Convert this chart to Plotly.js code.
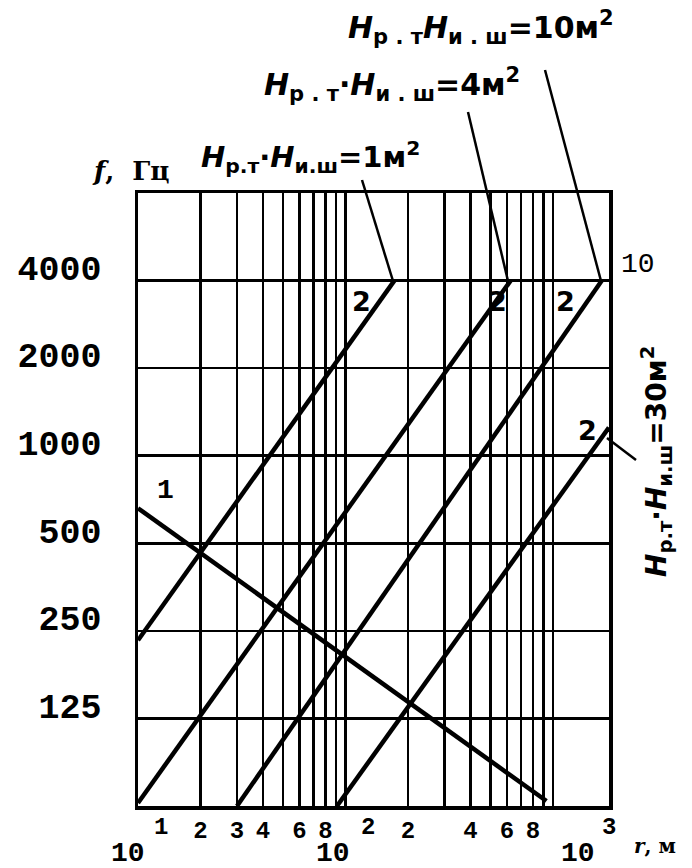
<!DOCTYPE html>
<html>
<head>
<meta charset="utf-8">
<script src="https://cdn.plot.ly/plotly-3.0.1.min.js"></script>
<style>
  html, body { margin: 0; padding: 0; background: #fff; }
  #chart { width: 692px; height: 868px; }
</style>
</head>
<body>
<div id="chart"></div>
<script>
// Octave-band frequencies on the vertical axis, Hz
const freqTicks = [125, 250, 500, 1000, 2000, 4000];
const freqLabels = ['125', '250', '500', '1000', '2000', '4000'];

// Distance grid, m (logarithmic), and the digits printed under it
const distGrid = [20, 30, 40, 50, 60, 70, 80, 90, 100, 200, 300, 400, 500, 600, 700, 800, 900, 1000];
const distLabels = ['2', '3', '4', '', '6', '', '8', '', '', '2', '', '4', '', '6', '', '8', '', ''];
const decades = [10, 100, 1000];
const decadeExp = ['1', '2', '3'];

// Curve 1
const curve1R = [10, 930];
const curve1F = [660, 65];

// Curves 2 for Hр.т·Hи.ш = 1, 4, 10, 30 m²
const curve2Area = [1, 4, 10, 30];
const curve2R = [[10, 172], [10, 625], [30, 1720], [91, 1860]];
const curve2F = [[232, 4000], [64, 4000], [62.5, 4000], [62.5, 1250]];

// Plot frame in page pixels
const W = 692, H = 868;
const L = 138, R = 609, T = 193, B = 806;
const X_RANGE = [1, 3.27];
const Y_RANGE = [Math.log10(62.5), Math.log10(8000)];
const px = x => (x - L) / (R - L);
const py = y => (B - y) / (B - T);
const rToPaper = r => (Math.log10(r) - X_RANGE[0]) / (X_RANGE[1] - X_RANGE[0]);

const INK = '#000';
const MONO = 'Liberation Mono, Courier New, monospace';
const SANS = 'DejaVu Sans, Arial, sans-serif';
const SERIF = 'DejaVu Serif, Times New Roman, serif';
const NB = '\u00a0';

const traces = [];
traces.push({
  x: curve1R, y: curve1F, type: 'scatter', mode: 'lines',
  line: { color: INK, width: 4.5 }, hoverinfo: 'skip'
});
curve2R.forEach((rs, i) => {
  traces.push({
    x: rs, y: curve2F[i], type: 'scatter', mode: 'lines',
    line: { color: INK, width: 4.5 }, hoverinfo: 'skip'
  });
});

// Caption "Hр.т·Hи.ш = A м²"; wide captions get loosely spaced subscripts
const areaLabel = (a, dot, loose) => {
  const s = loose ? NB : '';
  return '<i>H</i><sub>р' + s + '.' + s + 'т</sub>' + (dot ? '·' : '') +
    '<i>H</i><sub>и' + s + '.' + s + 'ш</sub>=' + a + 'м<sup>2</sup>';
};

const ann = [];
function text(t, x, y, opts) {
  ann.push(Object.assign({
    text: t, xref: 'paper', yref: 'paper', x: px(x), y: py(y),
    showarrow: false, xanchor: 'center', yanchor: 'middle',
    font: { family: MONO, size: 26, color: INK, weight: 'bold' }
  }, opts || {}));
}

// Decade labels 10^n under the distance axis
const decShift = [-10, -12, 25];
const expShift = [23, 23, 56];
decades.forEach((d, i) => {
  const xp = L + rToPaper(d) * (R - L);
  text('10', xp + decShift[i], 853, { font: { family: MONO, size: 28, color: INK, weight: 'bold' } });
  text(decadeExp[i], xp + expShift[i], 827, { font: { family: MONO, size: 24, color: INK, weight: 'bold' } });
});

// Axis captions
text('<i>r</i>,' + NB + 'м', 655, 846, { font: { family: SERIF, size: 20, color: INK, weight: 'bold' } });
text('<i>f</i>,' + NB + NB + 'Гц', 90, 171, { xanchor: 'left', font: { family: SERIF, size: 26, color: INK, weight: 'bold' } });

// Curve labels
const numFont = { family: SANS, size: 27, color: INK, weight: 'bold' };
text('1', 165, 490, { font: { family: MONO, size: 28, color: INK, weight: 'bold' } });
text('2', 361, 301, { font: numFont });
text('2', 497, 301, { font: numFont });
text('2', 565, 301, { font: numFont });
text('2', 587, 430, { font: numFont });
text('10', 638, 264, { font: { family: MONO, size: 28, color: INK } });

// Parameter captions for curves 2
const capFont = { family: SANS, size: 30, color: INK, weight: 'bold' };
text(areaLabel(curve2Area[0], true, false), 199, 157, { xanchor: 'left', font: { family: SANS, size: 29, color: INK, weight: 'bold' } });
text(areaLabel(curve2Area[1], true, true), 262, 85, { xanchor: 'left', font: capFont });
text(areaLabel(curve2Area[2], false, true), 346, 28, { xanchor: 'left', font: capFont });
text(areaLabel(curve2Area[3], true, false), 656, 462, { textangle: -90, font: { family: SANS, size: 28, color: INK, weight: 'bold' } });

// Leader lines from captions to their curves
const leaders = [
  [362, 180, 393, 281],
  [468, 112, 508, 281],
  [545, 70, 601, 281],
  [607, 438, 636, 460]
];
const shapes = leaders.map(([x0, y0, x1, y1]) => ({
  type: 'line', xref: 'paper', yref: 'paper',
  x0: px(x0), y0: py(y0), x1: px(x1), y1: py(y1),
  line: { color: INK, width: 2.5 }
}));

const layout = {
  width: W, height: H,
  margin: { l: L, r: W - R, t: T, b: H - B, pad: 0 },
  paper_bgcolor: '#fff', plot_bgcolor: '#fff',
  showlegend: false, hovermode: false,
  xaxis: {
    type: 'log', range: X_RANGE,
    tickmode: 'array', tickvals: distGrid, ticktext: distLabels,
    showgrid: true, gridcolor: INK, gridwidth: 2.5,
    showline: true, mirror: true, linecolor: INK, linewidth: 3.5,
    ticks: '', zeroline: false, ticklabelstandoff: 0,
    tickfont: { family: MONO, size: 24, color: INK, weight: 'bold' }
  },
  yaxis: {
    type: 'log', range: Y_RANGE,
    tickmode: 'array', tickvals: freqTicks, ticktext: freqLabels,
    showgrid: true, gridcolor: INK, gridwidth: 2.5,
    showline: true, mirror: true, linecolor: INK, linewidth: 3.5,
    ticks: '', zeroline: false,
    ticklabelstandoff: 26, ticklabelshift: -13,
    tickfont: { family: MONO, size: 35, color: INK, weight: 'bold' }
  },
  annotations: ann,
  shapes: shapes
};

Plotly.newPlot('chart', traces, layout, { staticPlot: true, displayModeBar: false });
</script>
</body>
</html>
